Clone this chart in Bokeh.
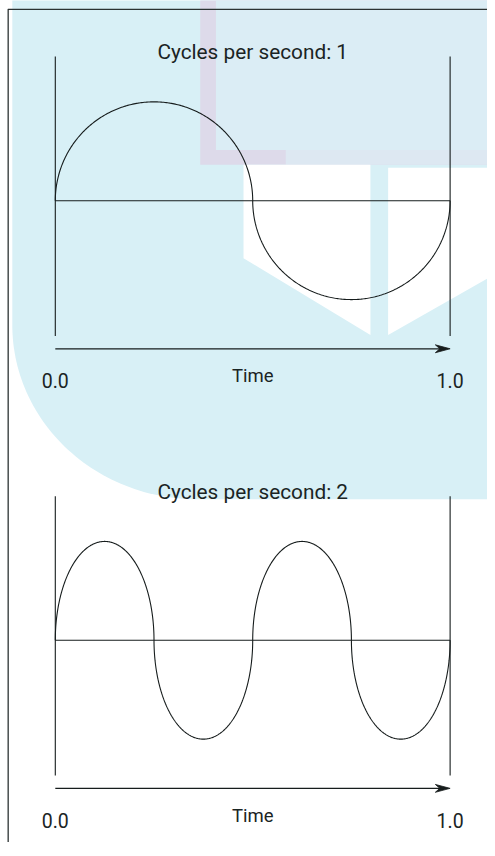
import numpy as np
from bokeh.plotting import figure
from bokeh.models import Range1d
from bokeh.embed import file_html
from bokeh.resources import INLINE
from bokeh.core.properties import value

# ---------------- data ----------------
cycles_per_second = [1, 2]
titles = ["Cycles per second: 1", "Cycles per second: 2"]
time_start = 0.0
time_end = 1.0
tick_values = [0.0, 1.0]
tick_labels = ["0.0", "1.0"]
axis_label = "Time"
amplitude = 1.0

# ---------------- layout ----------------
REF_W, REF_H = 495.0, 856.0          # drawing designed in these units
W = 487
S = W / REF_W                         # uniform scale to fit the window
H = round(REF_H * S)
PX_T = 401.3        # design px per second
PX_A = 100.5        # design px per amplitude unit
X0 = 55.7           # design x of time_start
BASES = [203.5, 650.3]  # design y of each panel's zero line
RANGE_NAMES = ["default", "panel2"]

INK = "#161c1c"
TXT = "#1a2424"
CYAN = "#d8f0f6"
FONT = value("Roboto")


def wave(f, n=240):
    """Half-ellipse lobes, one per half cycle."""
    halves = 2 * f
    span = time_end - time_start
    xs, ys = [], []
    for i in range(halves):
        c = time_start + (i + 0.5) * span / halves
        a = 0.5 * span / halves
        th = np.linspace(np.pi, 0, n)
        xs.append(c + a * np.cos(th))
        ys.append(((-1) ** i) * amplitude * np.sin(th))
    return np.concatenate(xs), np.concatenate(ys)


def dx(px):
    return (np.asarray(px, dtype=float) - X0) / PX_T


def dy(py, base=BASES[0]):
    return (base - np.asarray(py, dtype=float)) / PX_A


def off(pix_below):
    return -pix_below / PX_A


p = figure(width=W, height=H,
           x_range=Range1d(dx(0), dx(REF_W)),
           y_range=Range1d(dy(H / S), dy(0)),
           output_backend="svg", toolbar_location=None,
           x_axis_location=None, y_axis_location=None,
           min_border=0, min_border_left=0, min_border_right=0,
           min_border_top=0, min_border_bottom=0)
p.extra_y_ranges = {"panel2": Range1d(dy(H / S, BASES[1]), dy(0, BASES[1]))}
p.grid.visible = False
p.outline_line_color = None
p.background_fill_color = "white"
p.border_fill_color = "white"

# ---- watermark backdrop (decorative) ----
phi = np.linspace(0, np.pi / 2, 60)
cx = [12, 496, 496] + list(200 - 188 * np.sin(phi)) + [12]
cy = [-1, -1, 507] + list(330 + 177 * np.cos(phi)) + [-1]
p.patch(dx(cx), dy(cy), fill_color=CYAN, line_color=None)
p.patch(dx([203, 496, 496, 203]), dy([-1, -1, 167, 167]),
        fill_color="#dddaea", line_color=None)
p.patch(dx([219, 496, 496, 219]), dy([-1, -1, 152, 152]),
        fill_color="#dbedf5", line_color=None)
p.patch(dx([290, 496, 496, 290]), dy([152, 152, 167, 167]),
        fill_color="#dde8f2", line_color=None)
p.patch(dx([247, 376, 376, 247]), dy([167, 167, 340, 262]),
        fill_color="white", line_color=None)
p.patch(dx([394, 496, 496, 394]), dy([170, 170, 282, 340]),
        fill_color="white", line_color=None)

# ---- frame borders ----
p.line(dx([7.5, 496]), dy([9, 9]), line_color="#2b3232", line_width=1.3)
p.line(dx([7.8, 7.8]), dy([9, REF_H + 5]), line_color="#2b3232", line_width=1.3)

# ---- the two panels ----
for k, f in enumerate(cycles_per_second):
    rn = RANGE_NAMES[k]
    top_y = off(-146.5)
    bot_y = off(137.5)
    for t in tick_values:
        p.line([t, t], [top_y, bot_y], line_color=INK, line_width=1.1, y_range_name=rn)
    p.line([time_start, time_end], [0, 0], line_color=INK, line_width=1.1, y_range_name=rn)
    wx, wy = wave(f)
    p.line(wx, wy, line_color=INK, line_width=1.1, y_range_name=rn)

    # time arrow
    ay = off(150.5)
    p.line([time_start, time_end - 6 / PX_T], [ay, ay], line_color=INK,
           line_width=1.3, y_range_name=rn)
    p.patch([time_end, time_end - 15 / PX_T, time_end - 10.5 / PX_T, time_end - 15 / PX_T],
            [ay, ay + 4 / PX_A, ay, ay - 4 / PX_A],
            fill_color=INK, line_color=INK, line_width=0.8, y_range_name=rn)

    # texts
    mid = (time_start + time_end) / 2
    p.text([mid], [off(-151)], text=[titles[k]], y_range_name=rn,
           text_font=FONT, text_font_size="20.8px",
           text_align="center", text_baseline="alphabetic", text_color=TXT)
    p.text(tick_values, [off(183.2)] * len(tick_values), text=tick_labels,
           y_range_name=rn, text_font=FONT, text_font_size="19.5px",
           text_align="center", text_baseline="alphabetic", text_color=TXT)
    p.text([mid], [off(178.2)], text=[axis_label], y_range_name=rn,
           text_font=FONT, text_font_size="18.5px",
           text_align="center", text_baseline="alphabetic", text_color=TXT)

open("out.html", "w").write(file_html(p, INLINE))
